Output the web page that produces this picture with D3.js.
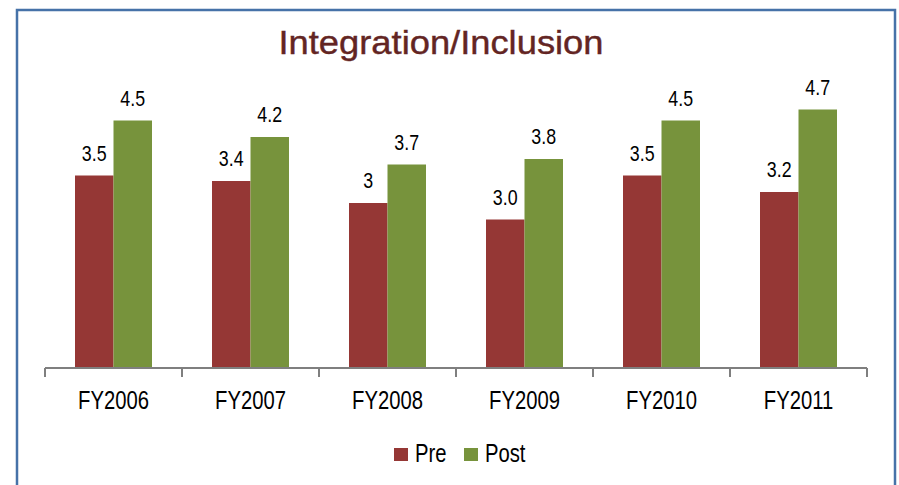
<!DOCTYPE html>
<html><head><meta charset="utf-8">
<script src="https://cdn.jsdelivr.net/npm/d3@7"></script>
<style>body{margin:0;background:#fff}svg{display:block}</style>
</head><body>
<script>
const categories = ["FY2006","FY2007","FY2008","FY2009","FY2010","FY2011"];
const seriesNames = ["Pre","Post"];
const preValues = [3.5, 3.4, 3.0, 2.7, 3.5, 3.2];
const postValues = [4.5, 4.2, 3.7, 3.8, 4.5, 4.7];
const preLabels = ["3.5","3.4","3","3.0","3.5","3.2"];
const postLabels = ["4.5","4.2","3.7","3.8","4.5","4.7"];
const colors = ["#953735","#77933C"];

const W = 899, H = 485;
const svg = d3.select("body").append("svg").attr("width", W).attr("height", H);
svg.append("rect").attr("width", W).attr("height", H).attr("fill", "#fff");
svg.append("rect").attr("x", 17).attr("y", 10).attr("width", 878).attr("height", 500)
  .attr("fill", "none").attr("stroke", "#4672a8").attr("stroke-width", 2.5);

const font = "'Liberation Sans',Arial,sans-serif";
const NX = 0.81; // narrow condensation

svg.append("text").attr("x", 441).attr("y", 54).attr("text-anchor", "middle")
  .attr("font-family", font).attr("font-size", 33)
  .attr("fill", "#632523").attr("textLength", 325).attr("lengthAdjust", "spacingAndGlyphs")
  .attr("stroke", "#632523").attr("stroke-width", 0.4)
  .text("Integration/Inclusion");

const x = d3.scaleBand().domain(categories).range([45, 867]).paddingInner(0).paddingOuter(0);
const inner = d3.scaleBand().domain(seriesNames).range([30, 107]);
const y = d3.scaleLinear().domain([0, 5]).range([368, 93]);

const data = categories.map((c, i) => ({
  cat: c,
  vals: [
    {s: "Pre", v: preValues[i], l: preLabels[i]},
    {s: "Post", v: postValues[i], l: postLabels[i]}
  ]
}));

const g = svg.selectAll("g.grp").data(data).enter().append("g")
  .attr("transform", d => `translate(${x(d.cat)},0)`);
g.selectAll("rect").data(d => d.vals).enter().append("rect")
  .attr("x", d => inner(d.s)).attr("width", inner.bandwidth())
  .attr("y", d => y(d.v)).attr("height", d => y(0) - y(d.v))
  .attr("fill", (d, i) => colors[i]);
g.selectAll("text").data(d => d.vals).enter().append("text")
  .attr("transform", d => `translate(${inner(d.s) + inner.bandwidth() / 2},${y(d.v) - 15}) scale(${NX},1)`)
  .attr("text-anchor", "middle").attr("font-family", font).attr("font-size", 22)
  .attr("fill", "#000").text(d => d.l);

const ag = svg.append("g").attr("transform", "translate(0,368)");
ag.append("line").attr("x1", 45).attr("x2", 867).attr("stroke", "#7f7f7f").attr("stroke-width", 2);
const bounds = categories.map(c => x(c)).concat([867]);
ag.selectAll("line.tk").data(bounds).enter().append("line").attr("class", "tk")
  .attr("x1", d => d).attr("x2", d => d).attr("y1", 0).attr("y2", 9)
  .attr("stroke", "#7f7f7f").attr("stroke-width", 2);
ag.selectAll("text.cl").data(categories).enter().append("text").attr("class", "cl")
  .attr("transform", d => `translate(${x(d) + x.bandwidth() / 2},40.5) scale(${NX},1)`)
  .attr("text-anchor", "middle").attr("font-family", font).attr("font-size", 25)
  .attr("fill", "#000").text(d => d);

const legend = svg.append("g");
const legItems = [{n: "Pre", x: 394, c: colors[0]}, {n: "Post", x: 464, c: colors[1]}];
legend.selectAll("rect").data(legItems).enter().append("rect")
  .attr("x", d => d.x).attr("y", 448).attr("width", 14).attr("height", 13).attr("fill", d => d.c);
legend.selectAll("text").data(legItems).enter().append("text")
  .attr("transform", d => `translate(${d.x + 21},462) scale(${NX},1)`)
  .attr("font-family", font).attr("font-size", 25).attr("fill", "#000").text(d => d.n);
</script>
</body></html>
